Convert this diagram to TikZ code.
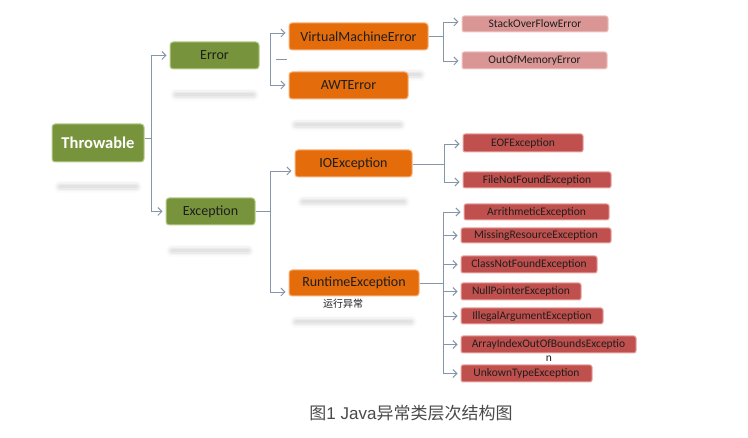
\documentclass[tikz,border=0pt]{standalone}
\usepackage{fontspec}
\setmainfont{Carlito}
\newfontfamily\cjk{Noto Sans CJK SC}
\newfontfamily\capsans{Liberation Sans}
\usetikzlibrary{arrows.meta}
\definecolor{tgreen}{HTML}{77933C}
\definecolor{tgreenb}{HTML}{B9CF8C}
\definecolor{torange}{HTML}{E46C0A}
\definecolor{torangeb}{HTML}{F8B27A}
\definecolor{tpink}{HTML}{DA9694}
\definecolor{tpinkb}{HTML}{EEC8C6}
\definecolor{tred}{HTML}{C0504D}
\definecolor{tredb}{HTML}{E9A5A3}
\definecolor{tline}{HTML}{8596A8}
\definecolor{ttext}{HTML}{1E1E1E}
\definecolor{tcap}{HTML}{4A4A4A}
\newcommand\reflbar[3]{%
  \draw[gray, line cap=round, line width=12pt, opacity=0.03] (#1,#3) -- (#2,#3);
  \draw[gray, line cap=round, line width=9pt, opacity=0.05] (#1,#3) -- (#2,#3);
  \draw[gray, line cap=round, line width=6pt, opacity=0.07] (#1,#3) -- (#2,#3);
  \draw[gray, line cap=round, line width=3pt, opacity=0.08] (#1,#3) -- (#2,#3);
}
\begin{document}
\begin{tikzpicture}[x=1pt,y=-1pt,
  base/.style={rounded corners=3pt, inner sep=0pt, line width=1pt, text=ttext},
  gbox/.style={base, fill=tgreen, draw=tgreenb, font=\fontsize{14}{16}\selectfont},
  obox/.style={base, fill=torange, draw=torangeb, font=\fontsize{14}{16}\selectfont, minimum height=27pt},
  pbox/.style={base, rounded corners=2pt, fill=tpink, draw=tpinkb, font=\fontsize{11.5}{13}\selectfont},
  rbox/.style={base, rounded corners=2pt, fill=tred, draw=tredb, font=\fontsize{11.5}{13}\selectfont},
  conn/.style={draw=tline, line width=0.9pt},
  arr/.style={conn, -{Straight Barb[length=4pt,width=8pt]}, shorten >=3pt},
]
\useasboundingbox (0,0) rectangle (748,438);
\fill[white] (0,0) rectangle (748,438);

% reflections
\reflbar{60}{136}{187}
\reflbar{176}{253}{95}
\reflbar{172}{248}{251}
\reflbar{300}{420}{75}
\reflbar{296}{400}{125}
\reflbar{303}{404}{202}
\reflbar{296}{411}{322}

% nodes
\node[base, fill=tgreen, draw=tgreenb, text=white, font=\fontsize{16.5}{18}\selectfont\bfseries,
      minimum width=92pt, minimum height=38pt] (thr) at (98,143) {Throwable};
\node[gbox, minimum width=89pt, minimum height=27pt] (err) at (214.5,55.5) {Error};
\node[gbox, minimum width=89pt, minimum height=27pt] (exc) at (210.5,211.5) {Exception};

\node[obox, minimum width=139pt] (vme) at (358.5,36.5) {VirtualMachineError};
\node[obox, minimum width=119pt] (awt) at (348.5,85.5) {AWTError};
\node[obox, minimum width=117pt] (ioe) at (353.5,163.5) {IOException};
\node[obox, minimum width=130pt, minimum height=26pt] (rte) at (354,283) {RuntimeException};
\node[font=\cjk\fontsize{10}{12}\selectfont, text=ttext] (rtel) at (343,304) {运行异常};

\node[pbox, minimum width=146pt, minimum height=16pt] (sof) at (535,24) {StackOverFlowError};
\node[pbox, minimum width=145pt, minimum height=17pt] (oom) at (534.5,60.5) {OutOfMemoryError};

\node[rbox, minimum width=120pt, minimum height=18pt] (eof) at (523,143) {EOFException};
\node[rbox, minimum width=148pt, minimum height=16pt] (fnf) at (537,180) {FileNotFoundException};

\node[rbox, minimum width=145pt, minimum height=16pt] (ari) at (536.5,212) {ArrithmeticException};
\node[rbox, minimum width=150pt, minimum height=15pt] (mis) at (536,235.5) {MissingResourceException};
\node[rbox, minimum width=136pt, minimum height=17pt] (cnf) at (529,264.5) {ClassNotFoundException};
\node[rbox, minimum width=120pt, minimum height=17pt] (npe) at (521,291.5) {NullPointerException};
\node[rbox, minimum width=142pt, minimum height=16pt] (iae) at (532,316) {IllegalArgumentException};
\node[rbox, minimum width=175pt, minimum height=17pt] (aio) at (548.5,344.5) {ArrayIndexOutOfBoundsExceptio};
\node[font=\fontsize{11.5}{13}\selectfont, text=ttext] (aion) at (549,359) {n};
\node[rbox, minimum width=131pt, minimum height=17pt] (ute) at (526.5,373.5) {UnkownTypeException};

% caption
\node[font=\cjk\fontsize{17}{20}\selectfont, text=tcap] (cap) at (411,413) {图{\capsans 1 Java}异常类层次结构图};

% connectors
\coordinate (j1) at (151,138);
\draw[conn] (thr.east |- j1) -- (j1);
\draw[arr] (j1) |- (err.west);
\draw[arr] (j1) |- (exc.west);

\coordinate (j2a) at (270,33);
\coordinate (j2b) at (270,85);
\draw[conn] (j2a) -- (j2b);
\draw[arr] (j2a) -- (vme.west |- j2a);
\draw[arr] (j2b) -- (awt.west |- j2b);
\coordinate (d1) at (276,59);
\coordinate (d2) at (287,59);
\draw[conn] (d1) -- (d2);

\coordinate (j3) at (270,211);
\draw[conn] (exc.east |- j3) -- (j3);
\coordinate (j3a) at (270,171);
\coordinate (j3b) at (270,292);
\draw[conn] (j3a) -- (j3b);
\draw[arr] (j3a) -- (ioe.west |- j3a);
\draw[arr] (j3b) -- (rte.west |- j3b);

\coordinate (j4) at (443,36);
\draw[conn] (vme.east |- j4) -- (j4);
\coordinate (j4a) at (443,22);
\coordinate (j4b) at (443,61);
\draw[conn] (j4a) -- (j4b);
\draw[arr] (j4a) -- (sof.west |- j4a);
\draw[arr] (j4b) -- (oom.west |- j4b);

\coordinate (j5) at (444,164);
\draw[conn] (ioe.east |- j5) -- (j5);
\coordinate (j5a) at (444,144);
\coordinate (j5b) at (444,182);
\draw[conn] (j5a) -- (j5b);
\draw[arr] (j5a) -- (eof.west |- j5a);
\draw[arr] (j5b) -- (fnf.west |- j5b);

\coordinate (j6) at (443,283);
\draw[conn] (rte.east |- j6) -- (j6);
\coordinate (j6a) at (443,212);
\coordinate (j6b) at (443,373);
\draw[conn] (j6a) -- (j6b);
\foreach \n in {ari,mis,cnf,npe,iae,aio,ute}{
  \draw[arr] (j6a |- \n.west) -- (\n.west);
}
\end{tikzpicture}
\end{document}
